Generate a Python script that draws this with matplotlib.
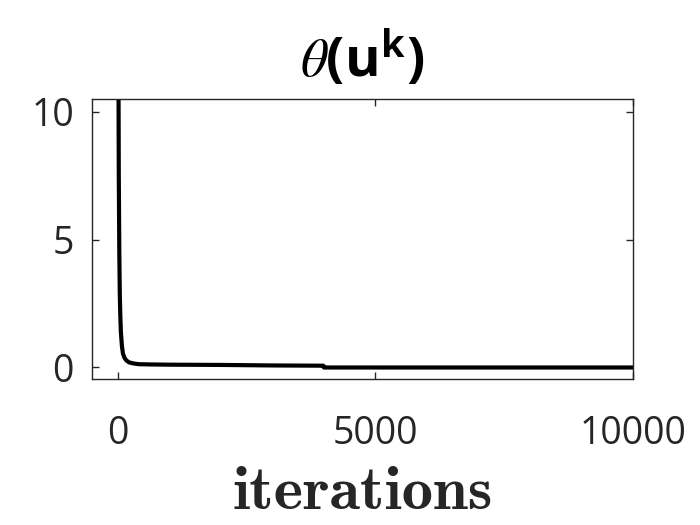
import matplotlib
matplotlib.use("Agg")
import matplotlib.pyplot as plt

# data
iterations = [1, 5, 10, 20, 30, 40, 50, 60, 80, 100, 130, 170, 220, 300, 400,
              600, 1000, 2000, 3000, 3990, 4000, 10000]
theta = [60, 25, 14, 7.5, 4.5, 2.8, 2.0, 1.4, 0.85, 0.55, 0.38, 0.27, 0.2,
         0.16, 0.13, 0.12, 0.11, 0.10, 0.08, 0.07, 0.0, 0.0]
xticks = [0, 5000, 10000]
yticks = [0, 5, 10]

plt.rcParams['mathtext.fontset'] = 'custom'
plt.rcParams['mathtext.it'] = 'STIXGeneral:italic'
plt.rcParams['mathtext.sf'] = 'Open Sans:bold'
plt.rcParams['mathtext.rm'] = 'Open Sans:bold'

TXT = '#262626'
fig = plt.figure(figsize=(7, 5.25), dpi=100)
ax = fig.add_axes([92/700, 1-379/525, (633-92)/700, (379-99)/525])

ax.plot(iterations, theta, color='black', linewidth=3, solid_joinstyle='round')

ax.set_xlim(-500, 10000)
ax.set_ylim(-0.45, 10.5)
ax.set_xticks(xticks)
ax.set_yticks(yticks)
ax.set_xticklabels([str(v) for v in xticks])
ax.set_yticklabels([str(v) for v in yticks])
for lab in ax.get_xticklabels() + ax.get_yticklabels():
    lab.set_fontfamily('Open Sans')
    lab.set_fontsize(27)
    lab.set_fontweight('medium')
    lab.set_color(TXT)
ax.tick_params(direction='in', length=5, width=1, color=TXT,
               top=True, right=True)
ax.tick_params(axis='x', pad=26)
ax.tick_params(axis='y', pad=13)
for s in ax.spines.values():
    s.set_color(TXT)
    s.set_linewidth(1)

ax.set_xlabel('iterations', fontfamily='cmb10', fontsize=45, color=TXT,
              labelpad=10)
ax.set_title(r'$\theta$(u$^{\mathsf{k}}$)', fontfamily='Open Sans',
             fontweight='bold', fontsize=39, color='black', pad=16)

fig.savefig('out.png', dpi=100)
